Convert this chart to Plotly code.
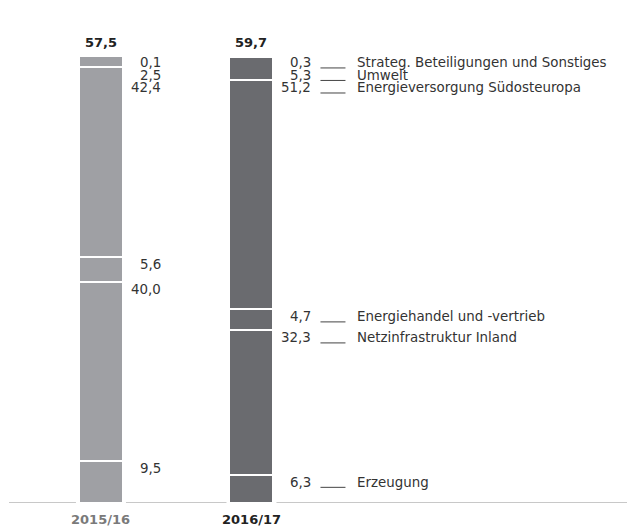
import plotly.graph_objects as go

# ---------------- data ----------------
years = ["2015/16", "2016/17"]
segments = [
    "Erzeugung",
    "Netzinfrastruktur Inland",
    "Energiehandel und -vertrieb",
    "Energieversorgung Südosteuropa",
    "Umwelt",
    "Strateg. Beteiligungen und Sonstiges",
]
share_1516 = [9.5, 40.0, 5.6, 42.4, 2.5, 0.1]
share_1617 = [6.3, 32.3, 4.7, 51.2, 5.3, 0.3]
totals = [57.5, 59.7]

# ---------------- layout constants ----------------
W, H = 629, 531
ML, MR, MT, MB = 9, 2, 55, 28
plot_w = W - ML - MR
plot_h = H - MT - MB
X_RANGE = [-0.611, 3.495]
Y_RANGE = [0, 100.2]
px_x = plot_w / (X_RANGE[1] - X_RANGE[0])
px_y = plot_h / (Y_RANGE[1] - Y_RANGE[0])
BAR_W_PX = 44
bar_w = BAR_W_PX / px_x

BAR_COLORS = ["#9fa0a4", "#6a6b6f"]
TEXT = "#333333"
FONT = "DejaVu Sans"
FS = 13.4

def fmt(v):
    return f"{v:.1f}".replace(".", ",")

fig = go.Figure()
series = [share_1516, share_1617]
for i, seg in enumerate(segments):
    fig.add_trace(go.Bar(
        x=[0, 1],
        y=[series[0][i], series[1][i]],
        name=seg,
        width=bar_w,
        marker=dict(color=BAR_COLORS, line=dict(color="white", width=2.5)),
        hoverinfo="skip",
        showlegend=False,
    ))

annotations = []
shapes = []

# value labels
for b, vals in enumerate(series):
    cums = []
    c = 0
    for v in vals:
        c += v
        cums.append(c)
    prev_down = -1e9
    for i in reversed(range(len(vals))):
        top = cums[i]
        top_down = (Y_RANGE[1] - top) * px_y
        desired = top_down + 7.5
        down = max(desired, prev_down + 12.5)
        prev_down = down
        shift = down - top_down
        annotations.append(dict(
            x=b, y=top, xref="x", yref="y",
            text=fmt(vals[i]), showarrow=False,
            xanchor="right", yanchor="middle",
            xshift=62, yshift=-shift,
            font=dict(family=FONT, size=FS, color=TEXT),
        ))
        if b == 1:
            shapes.append(dict(
                type="line", xref="x", yref="y",
                xsizemode="pixel", ysizemode="pixel",
                xanchor=b, yanchor=top,
                x0=69, x1=94, y0=-(shift + 5), y1=-(shift + 5),
                line=dict(color="#444444", width=1),
            ))
            annotations.append(dict(
                x=b, y=top, xref="x", yref="y",
                text=segments[i], showarrow=False,
                xanchor="left", yanchor="middle",
                xshift=104, yshift=-shift,
                font=dict(family=FONT, size=FS, color=TEXT),
            ))

# totals above bars
for b, t in enumerate(totals):
    annotations.append(dict(
        x=b, y=1, xref="x", yref="paper",
        text=f"<b>{fmt(t)}</b>", showarrow=False,
        xanchor="center", yanchor="middle", yshift=13,
        font=dict(family=FONT, size=13, color="#222222"),
    ))

# category labels
cat_colors = ["#7a7a7a", "#222222"]
for b, yname in enumerate(years):
    annotations.append(dict(
        x=b, y=0, xref="x", yref="paper",
        text=f"<b>{yname}</b>", showarrow=False,
        xanchor="center", yanchor="middle", yshift=-16,
        font=dict(family=FONT, size=13, color=cat_colors[b]),
    ))

# baseline with gaps around bars
gap = (BAR_W_PX / 2 + 3) / px_x
edges = [X_RANGE[0]]
for b in range(len(years)):
    edges += [b - gap, b + gap]
edges.append(X_RANGE[1])
for k in range(0, len(edges), 2):
    shapes.append(dict(
        type="line", xref="x", yref="y", layer="below",
        x0=edges[k], x1=edges[k + 1], y0=0, y1=0,
        line=dict(color="#c8c8c8", width=2),
    ))

fig.update_layout(
    width=W, height=H,
    margin=dict(l=ML, r=MR, t=MT, b=MB),
    barmode="stack",
    bargap=0,
    plot_bgcolor="white", paper_bgcolor="white",
    xaxis=dict(range=X_RANGE, visible=False, fixedrange=True),
    yaxis=dict(range=Y_RANGE, visible=False, fixedrange=True),
    annotations=annotations,
    shapes=shapes,
    font=dict(family=FONT, color=TEXT),
)

fig.write_html(
    "out.html",
    config={"displayModeBar": False},
    post_script="document.body.style.margin='0';document.body.style.overflow='hidden';",
)
